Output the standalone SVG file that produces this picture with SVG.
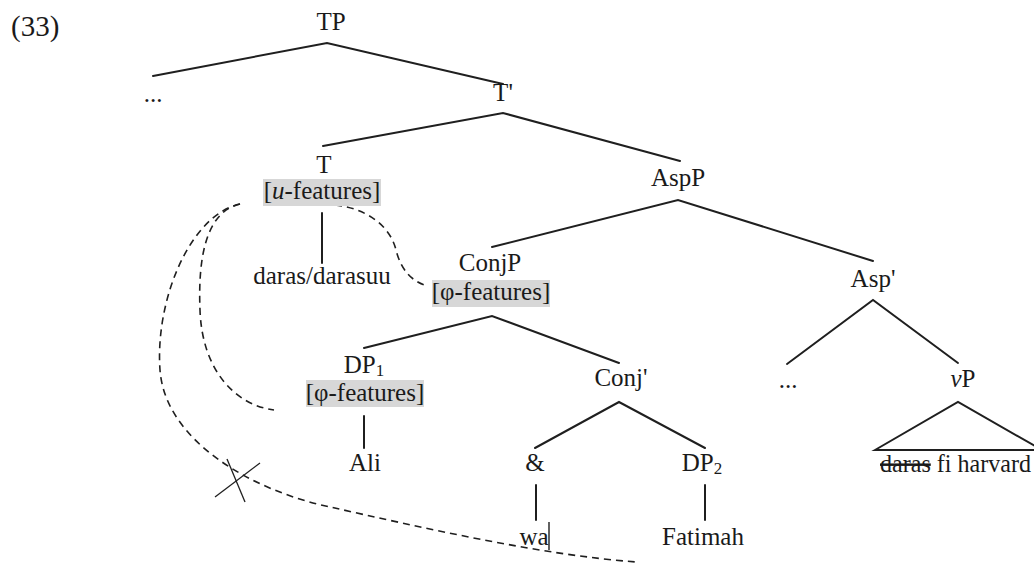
<svg xmlns="http://www.w3.org/2000/svg" width="1034" height="564" viewBox="0 0 1034 564">
  <style>
    text { font-family: "Liberation Serif", "Times New Roman", serif; font-size: 25px; fill: #1a1a1a; text-anchor: middle; }
    .num { text-anchor: start; }
    .label { font-size: 29px; }
    .branch { stroke: #1f1f1f; stroke-width: 2; fill: none; stroke-linecap: round; }
    .agree { stroke: #1f1f1f; stroke-width: 1.6; fill: none; stroke-dasharray: 7 5; }
    .cross { stroke: #1f1f1f; stroke-width: 1.3; fill: none; }
    .feat { fill: #d7d7d7; }
    .sub { font-size: 17px; }
  </style>
  <rect width="1034" height="564" fill="#ffffff"/>

  <text class="num label" x="11" y="36">(33)</text>

  <!-- tree branches -->
  <g id="connectors">
    <polyline class="branch" points="153,76 327,43 503,84"/>
    <polyline class="branch" points="323,146 503,113 680,161"/>
    <line class="branch" x1="322" y1="213" x2="322" y2="263"/>
    <polyline class="branch" points="492,247 678,200 873,261"/>
    <polyline class="branch" points="364,348 492,316 619,363"/>
    <line class="branch" x1="364" y1="416" x2="364" y2="448"/>
    <polyline class="branch" points="535,448 619,402 705,448"/>
    <line class="branch" x1="536" y1="485" x2="536" y2="520"/>
    <line class="branch" x1="705" y1="485" x2="705" y2="520"/>
    <polyline class="branch" points="787,364 873,300 958,363"/>
    <polygon class="branch" points="875,450 958,402 1042,450"/>

    <!-- agreement paths -->
    <path class="agree" d="M335,205 C365,208 390,225 396,250 C401,270 412,282 428,286"/>
    <path class="agree" d="M240,204 C205,212 198,260 200,310 C202,370 235,405 274,410"/>
    <path class="agree" d="M240,204 C190,215 155,300 160,370 C165,440 250,490 330,507 C420,527 540,555 637,562"/>
    <!-- blocked agreement -->
    <line class="cross" x1="227" y1="459" x2="245" y2="502"/>
    <line class="cross" x1="215" y1="497" x2="260" y2="463"/>
  </g>

  <g id="tp"><text x="331" y="30">TP</text></g>
  <g id="spec-tp"><text x="153" y="102">...</text></g>
  <g id="t-bar"><text x="503" y="101">T'</text></g>

  <g id="t">
    <text x="324" y="173">T</text>
    <rect class="feat" x="263" y="179" width="118" height="27"/>
    <text x="322" y="199">[<tspan font-style="italic">u</tspan>-features]</text>
  </g>
  <g id="verb"><text x="322" y="284">daras/darasuu</text></g>

  <g id="aspp"><text x="678" y="186">AspP</text></g>

  <g id="conjp">
    <text x="490" y="271">ConjP</text>
    <rect class="feat" x="432" y="280" width="118" height="27"/>
    <text x="491" y="300">[φ-features]</text>
  </g>

  <g id="dp1">
    <text x="364" y="373">DP<tspan class="sub" dy="3">1</tspan></text>
    <rect class="feat" x="306" y="380" width="118" height="27"/>
    <text x="365" y="401">[φ-features]</text>
  </g>
  <g id="ali"><text x="365" y="471">Ali</text></g>

  <g id="conj-bar"><text x="621" y="386">Conj'</text></g>
  <g id="conj"><text x="535" y="471">&amp;</text></g>
  <g id="wa">
    <text x="534" y="545">wa</text>
    <line x1="549" y1="522" x2="549" y2="550" stroke="#1f1f1f" stroke-width="1.4"/>
  </g>
  <g id="dp2"><text x="702" y="471">DP<tspan class="sub" dy="3">2</tspan></text></g>
  <g id="fatimah"><text x="703" y="545">Fatimah</text></g>

  <g id="asp-bar"><text x="873" y="287">Asp'</text></g>
  <g id="spec-asp"><text x="788" y="388">...</text></g>
  <g id="vp"><text x="963" y="387"><tspan font-style="italic">v</tspan>P</text></g>
  <g id="vp-content">
    <text class="num" x="880" y="472" textLength="151" lengthAdjust="spacingAndGlyphs"><tspan text-decoration="line-through">daras</tspan> fi harvard</text>
  </g>
</svg>
